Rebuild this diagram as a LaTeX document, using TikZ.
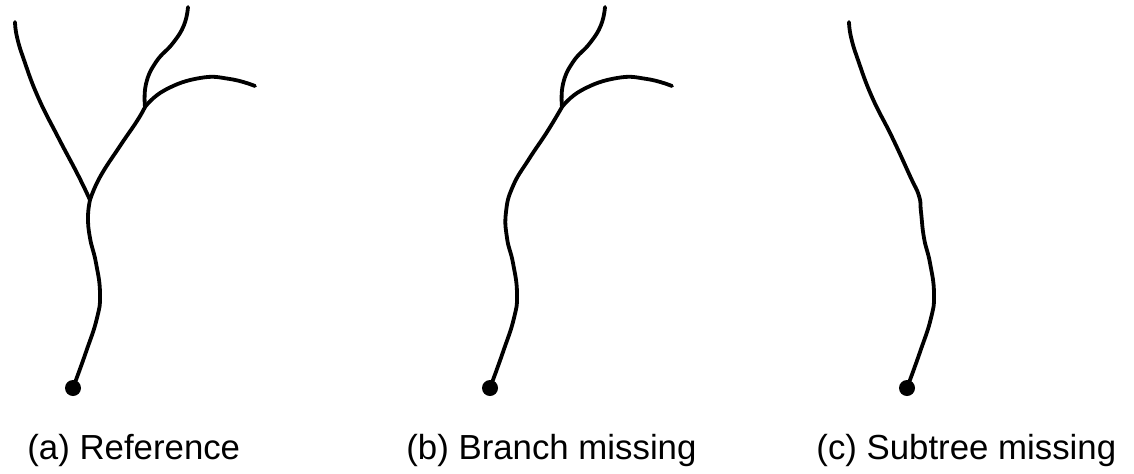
\documentclass[tikz,border=0pt]{standalone}
\usepackage{fontspec}
\setmainfont{Liberation Sans}
\begin{document}
\begin{tikzpicture}[x=0.5pt,y=-0.5pt,
  branch/.style={line width=1.9pt, line cap=round, line join=round},
  rootdot/.style={circle, fill=black, inner sep=0pt, minimum size=8pt},
  caption/.style={anchor=base west, inner sep=0pt, font=\fontsize{17.4pt}{20pt}\selectfont}]
\useasboundingbox (0,0) rectangle (1134,473);

% (a) Reference
\node[rootdot] (ra) at (73,388) {};
\draw[branch] plot[smooth, tension=0.8] coordinates {(73,388) (86,352) (97,318) (100,293) (96,263) (90,238) (88,217) (90,200)};
\draw[branch] plot[smooth, tension=0.8] coordinates {(90,200) (78,175) (58,137) (38,97) (24,60) (17,37) (15,22)};
\draw[branch] plot[smooth, tension=0.8] coordinates {(90,200) (100,177) (120,146) (137,121) (145,107)};
\draw[branch] plot[smooth, tension=0.8] coordinates {(145,107) (146,84) (156,62) (173,43) (184,25) (188,7)};
\draw[branch] plot[smooth, tension=0.8] coordinates {(145,107) (165,90) (200,78) (230,79) (255,86)};
\node[caption] (ca) at (27,459) {(a) Reference};

% (b) Branch missing
\begin{scope}[xshift=208.5pt]
\node[rootdot] (rb) at (73,388) {};
\draw[branch] plot[smooth, tension=0.8] coordinates {(73,388) (86,352) (97,318) (100,293) (96,263) (90,238) (89,212) (96,186) (112,159) (130,132) (145,107)};
\draw[branch] plot[smooth, tension=0.8] coordinates {(145,107) (146,84) (156,62) (173,43) (184,25) (188,7)};
\draw[branch] plot[smooth, tension=0.8] coordinates {(145,107) (165,90) (200,78) (230,79) (255,86)};
\end{scope}
\node[caption] (cb) at (406,459) {(b) Branch missing};

% (c) Subtree missing
\begin{scope}[xshift=417pt]
\node[rootdot] (rc) at (73,388) {};
\draw[branch] plot[smooth, tension=0.8] coordinates {(73,388) (86,352) (97,318) (100,293) (96,263) (90,238) (87,212) (85,196) (76,176) (58,137) (38,97) (24,60) (17,37) (15,22)};
\end{scope}
\node[caption] (cc) at (816,459) {(c) Subtree missing};
\end{tikzpicture}
\end{document}
